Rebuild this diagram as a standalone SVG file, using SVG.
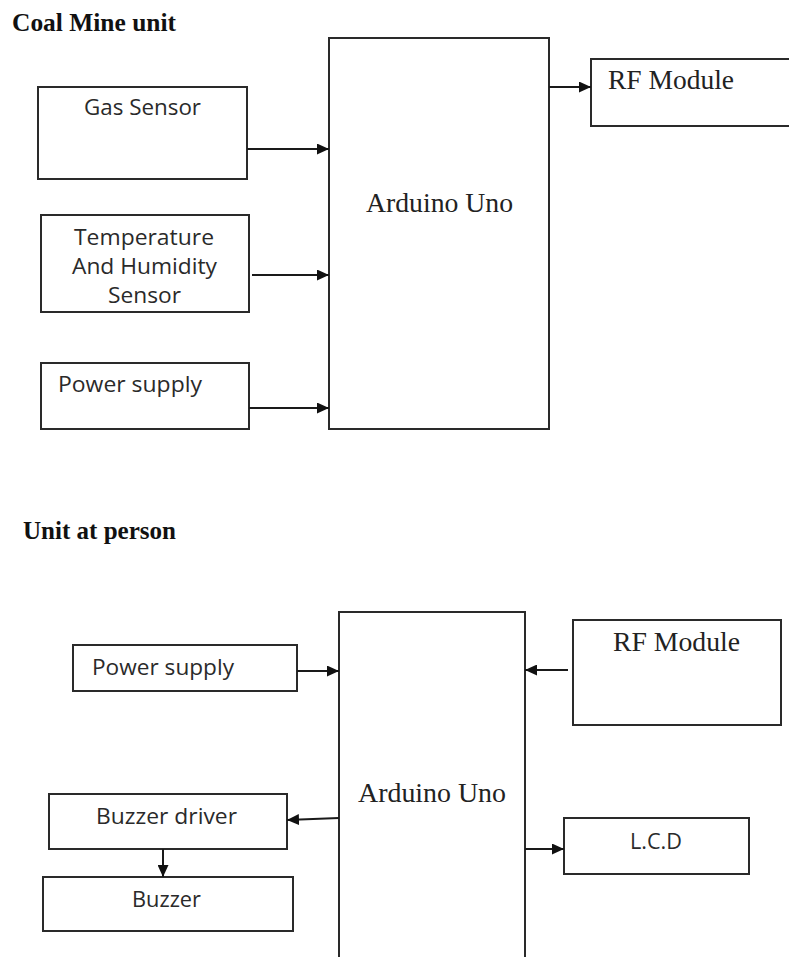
<svg xmlns="http://www.w3.org/2000/svg" width="789" height="957" viewBox="0 0 789 957">
<defs>
<style>
.box{fill:#fff;stroke:#2a2a2a;stroke-width:2}
.ln{fill:none;stroke:#1a1a1a;stroke-width:2;marker-end:url(#ah)}
.ttl{font-family:"Liberation Serif",serif;font-weight:bold;font-size:25px;fill:#111}
.ser{font-family:"Liberation Serif",serif;font-size:27px;fill:#222}
.sans{font-family:"Open Sans","Noto Sans",sans-serif;font-size:21px;fill:#2a2a2a}
</style>
<marker id="ah" markerUnits="userSpaceOnUse" markerWidth="12" markerHeight="11" refX="12" refY="5.5" orient="auto">
<path d="M0,0 L12,5.5 L0,11 z" fill="#111"/>
</marker>
</defs>
<rect width="789" height="957" fill="#fff"/>
<text class="ttl" x="12" y="31" textLength="164" lengthAdjust="spacingAndGlyphs">Coal Mine unit</text>
<text class="ttl" x="23" y="539" textLength="153" lengthAdjust="spacingAndGlyphs">Unit at person</text>

<g id="arduino1"><rect class="box" x="329" y="38" width="220" height="391"/><text class="ser" x="366" y="212" textLength="147" lengthAdjust="spacingAndGlyphs">Arduino Uno</text></g>
<g id="gas"><rect class="box" x="38" y="87" width="209" height="92"/><text class="sans" x="84" y="115" textLength="117" lengthAdjust="spacingAndGlyphs">Gas Sensor</text></g>
<g id="temp"><rect class="box" x="41" y="215" width="208" height="97"/>
<text class="sans" x="74" y="245" textLength="140" lengthAdjust="spacingAndGlyphs">Temperature</text>
<text class="sans" x="72" y="274" textLength="145" lengthAdjust="spacingAndGlyphs">And Humidity</text>
<text class="sans" x="108" y="303" textLength="73" lengthAdjust="spacingAndGlyphs">Sensor</text></g>
<g id="power1"><rect class="box" x="41" y="363" width="208" height="66"/><text class="sans" x="58" y="392" textLength="144" lengthAdjust="spacingAndGlyphs">Power supply</text></g>
<g id="rf1"><rect class="box" x="591" y="59" width="205" height="67"/><text class="ser" x="608" y="89" textLength="126" lengthAdjust="spacingAndGlyphs">RF Module</text></g>

<g id="arduino2"><rect class="box" x="339" y="612" width="186" height="360"/><text class="ser" x="358" y="802" textLength="148" lengthAdjust="spacingAndGlyphs">Arduino Uno</text></g>
<g id="power2"><rect class="box" x="73" y="645" width="224" height="46"/><text class="sans" x="92" y="675" textLength="142" lengthAdjust="spacingAndGlyphs">Power supply</text></g>
<g id="rf2"><rect class="box" x="573" y="620" width="208" height="105"/><text class="ser" x="613" y="651" textLength="127" lengthAdjust="spacingAndGlyphs">RF Module</text></g>
<g id="buzzerdriver"><rect class="box" x="49" y="794" width="238" height="55"/><text class="sans" x="96" y="824" textLength="141" lengthAdjust="spacingAndGlyphs">Buzzer driver</text></g>
<g id="buzzer"><rect class="box" x="43" y="877" width="250" height="54"/><text class="sans" x="132" y="907" textLength="69" lengthAdjust="spacingAndGlyphs">Buzzer</text></g>
<g id="lcd"><rect class="box" x="564" y="818" width="185" height="56"/><text class="sans" x="630" y="849" textLength="52" lengthAdjust="spacingAndGlyphs">L.C.D</text></g>

<g id="connectors">
<line class="ln" x1="247" y1="149" x2="329" y2="149"/>
<line class="ln" x1="252" y1="275" x2="329" y2="275"/>
<line class="ln" x1="249" y1="408" x2="329" y2="408"/>
<line class="ln" x1="549" y1="87" x2="591" y2="87"/>
<line class="ln" x1="297" y1="671" x2="339" y2="671"/>
<line class="ln" x1="568" y1="670" x2="525" y2="670"/>
<line class="ln" x1="339" y1="818" x2="287" y2="820"/>
<line class="ln" x1="163" y1="849" x2="163" y2="877"/>
<line class="ln" x1="525" y1="849" x2="564" y2="849"/>
</g>
</svg>
